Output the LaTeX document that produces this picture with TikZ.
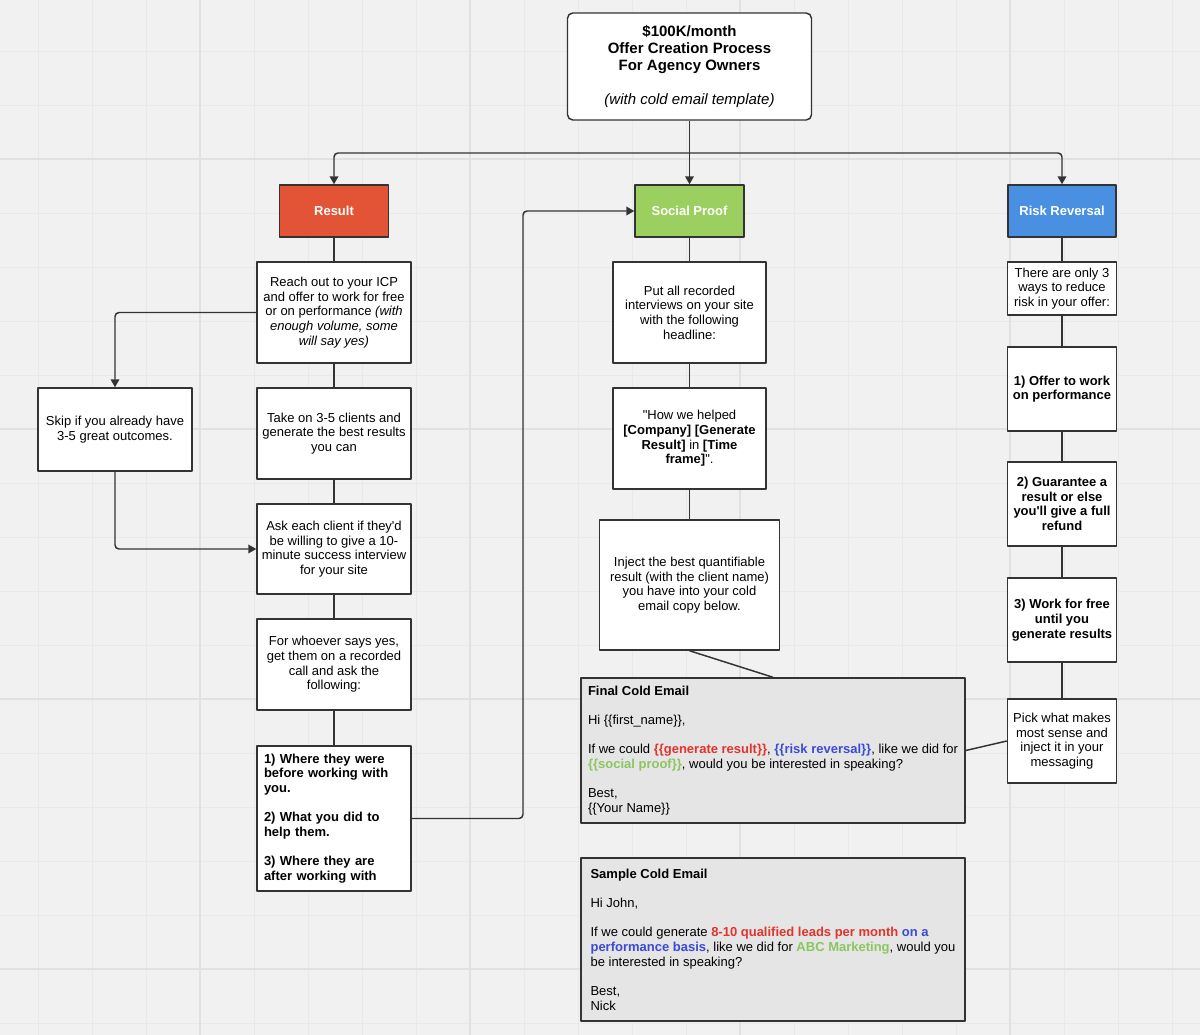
\documentclass[tikz,border=0pt]{standalone}
\usepackage{fontspec}
\setmainfont{Liberation Sans}
\usetikzlibrary{arrows.meta}
\definecolor{canvas}{HTML}{F1F1F1}
\definecolor{gridminor}{HTML}{E9E9E9}
\definecolor{gridmajor}{HTML}{E1E1E1}
\definecolor{edgegray}{HTML}{333333}
\definecolor{resultred}{HTML}{E35336}
\definecolor{proofgreen}{HTML}{9BCF5F}
\definecolor{riskblue}{HTML}{4A90E2}
\definecolor{mailgray}{HTML}{E5E5E5}
\definecolor{mailred}{HTML}{E0342C}
\definecolor{mailblue}{HTML}{3A4BD6}
\definecolor{mailgreen}{HTML}{8CC65E}
\newcommand{\pxu}{0.75pt}

\begin{document}
\begin{tikzpicture}[
  x=0.75pt,
  y=-0.75pt,
  line join=round,
  card/.style={draw=edgegray,fill=white,line width=1.1pt,inner sep=0pt,align=center,
    font=\fontsize{9.75}{11}\selectfont},
  header/.style={card,text=white,font=\fontsize{9.75}{11}\selectfont\bfseries},
  mailbox/.style={card,fill=mailgray,align=left},
  link/.style={draw=edgegray,line width=1.1pt},
  flow/.style={link,rounded corners=3pt,-{Triangle[length=6pt,width=6.5pt]}}
]
  % Canvas with the board grid.
  \useasboundingbox (0,0) rectangle (1200,1035);
  \fill[canvas] (0,0) rectangle (1200,1035);
  \foreach \gx in {38,92,...,1172} {
    \draw[gridminor,line width=0.5pt] (\gx,0) -- (\gx,1035);
  }
  \foreach \gy in {51,105,...,1023} {
    \draw[gridminor,line width=0.5pt] (0,\gy) -- (1200,\gy);
  }
  \foreach \gx in {200,470,740,1010} {
    \draw[gridmajor,line width=0.8pt] (\gx,0) -- (\gx,1035);
  }
  \foreach \gy in {159,429,699,969} {
    \draw[gridmajor,line width=0.8pt] (0,\gy) -- (1200,\gy);
  }

  % Title and the three headers.
  \node[card,rounded corners=4pt,minimum width=244*\pxu,minimum height=107*\pxu,
    font=\fontsize{11.25}{12.75}\selectfont] (title) at (689.5,66.5)
    {\textbf{\$100K/month}\\\textbf{Offer Creation Process}\\\textbf{For Agency Owners}\\[12.75pt]\textit{(with cold email template)}};
  \node[header,fill=resultred,minimum width=109*\pxu,minimum height=52*\pxu] (result) at (334,211) {Result};
  \node[header,fill=proofgreen,minimum width=109*\pxu,minimum height=52*\pxu] (proof) at (689.5,211) {Social Proof};
  \node[header,fill=riskblue,minimum width=108*\pxu,minimum height=52*\pxu] (risk) at (1062,211) {Risk Reversal};

  \coordinate (fork) at (689.5,153);
  \draw[flow] (title) -- (proof);
  \draw[flow] (fork) -| (result);
  \draw[flow] (fork) -| (risk);

  % Result column.
  \node[card,minimum width=154*\pxu,minimum height=101*\pxu] (r1) at (334,312.5)
    {Reach out to your ICP\\and offer to work for free\\or on performance \textit{(with}\\\textit{enough volume, some}\\\textit{will say yes)}};
  \node[card,minimum width=154*\pxu,minimum height=91*\pxu] (r2) at (334,433.5)
    {Take on 3-5 clients and\\generate the best results\\you can};
  \node[card,minimum width=154*\pxu,minimum height=90*\pxu] (r3) at (334,549)
    {Ask each client if they\textquotesingle d\\be willing to give a 10-\\minute success interview\\for your site};
  \node[card,minimum width=154*\pxu,minimum height=91*\pxu] (r4) at (334,664.5)
    {For whoever says yes,\\get them on a recorded\\call and ask the\\following:};
  \node[card,align=left,text width=140*\pxu,minimum width=154*\pxu,minimum height=145*\pxu,
    font=\fontsize{9.75}{11}\selectfont\bfseries] (r5) at (334,818.5)
    {1) Where they were\\before working with\\you.\\[11pt]2) What you did to\\help them.\\[11pt]3) Where they are\\after working with};
  \node[card,minimum width=154*\pxu,minimum height=83*\pxu] (skip) at (115,429.5)
    {Skip if you already have\\3-5 great outcomes.};

  \foreach \a/\b in {result/r1,r1/r2,r2/r3,r3/r4,r4/r5} {
    \draw[link] (\a) -- (\b);
  }
  \draw[flow] (r1.west) -| (skip);
  \draw[flow] (skip) |- (r3);
  \coordinate (jog) at (523,211);
  \draw[flow] (r5.east) -| (jog) -- (proof);

  % Social proof column.
  \node[card,minimum width=153*\pxu,minimum height=101*\pxu] (s1) at (689.5,312.5)
    {Put all recorded\\interviews on your site\\with the following\\headline:};
  \node[card,minimum width=153*\pxu,minimum height=101*\pxu] (s2) at (689.5,438.5)
    {\textquotedbl How we helped\\\textbf{[Company] [Generate}\\\textbf{Result]} in \textbf{[Time}\\\textbf{frame]}\textquotedbl .};
  \node[card,minimum width=180*\pxu,minimum height=130*\pxu] (s3) at (689.5,585)
    {Inject the best quantifiable\\result (with the client name)\\you have into your cold\\email copy below.};

  \foreach \a/\b in {proof/s1,s1/s2,s2/s3} {
    \draw[link] (\a) -- (\b);
  }

  % Risk reversal column.
  \node[card,minimum width=109*\pxu,minimum height=53*\pxu] (rr1) at (1062,288.5)
    {There are only 3\\ways to reduce\\risk in your offer:};
  \node[card,minimum width=109*\pxu,minimum height=84*\pxu,font=\fontsize{9.75}{11}\selectfont\bfseries] (rr2) at (1062,389)
    {1) Offer to work\\on performance};
  \node[card,minimum width=109*\pxu,minimum height=84*\pxu,font=\fontsize{9.75}{11}\selectfont\bfseries] (rr3) at (1062,504)
    {2) Guarantee a\\result or else\\you\textquotesingle ll give a full\\refund};
  \node[card,minimum width=109*\pxu,minimum height=84*\pxu,font=\fontsize{9.75}{11}\selectfont\bfseries] (rr4) at (1062,620)
    {3) Work for free\\until you\\generate results};
  \node[card,minimum width=109*\pxu,minimum height=84*\pxu] (rr5) at (1062,741)
    {Pick what makes\\most sense and\\inject it in your\\messaging};

  \foreach \a/\b in {risk/rr1,rr1/rr2,rr2/rr3,rr3/rr4,rr4/rr5} {
    \draw[link] (\a) -- (\b);
  }

  % Email templates.
  \node[mailbox,minimum width=384*\pxu,minimum height=145*\pxu] (final) at (773,750.5)
    {\textbf{Final Cold Email}\\[11pt]
     Hi \{\{first\_name\}\},\\[11pt]
     If we could \textcolor{mailred}{\textbf{\{\{generate result\}\}}}, \textcolor{mailblue}{\textbf{\{\{risk reversal\}\}}}, like we did for\\
     \textcolor{mailgreen}{\textbf{\{\{social proof\}\}}}, would you be interested in speaking?\\[11pt]
     Best,\\
     \{\{Your Name\}\}};
  \node[mailbox,minimum width=384*\pxu,minimum height=163*\pxu] (sample) at (773,939.5)
    {\textbf{Sample Cold Email}\\[11pt]
     Hi John,\\[11pt]
     If we could generate \textcolor{mailred}{\textbf{8-10 qualified leads per month}} \textcolor{mailblue}{\textbf{on a}}\\
     \textcolor{mailblue}{\textbf{performance basis}}, like we did for \textcolor{mailgreen}{\textbf{ABC Marketing}}, would you\\
     be interested in speaking?\\[11pt]
     Best,\\
     Nick};

  \draw[link] (s3.south) -- (final.north);
  \draw[link] (rr5.west) -- (final.east);
\end{tikzpicture}
\end{document}
